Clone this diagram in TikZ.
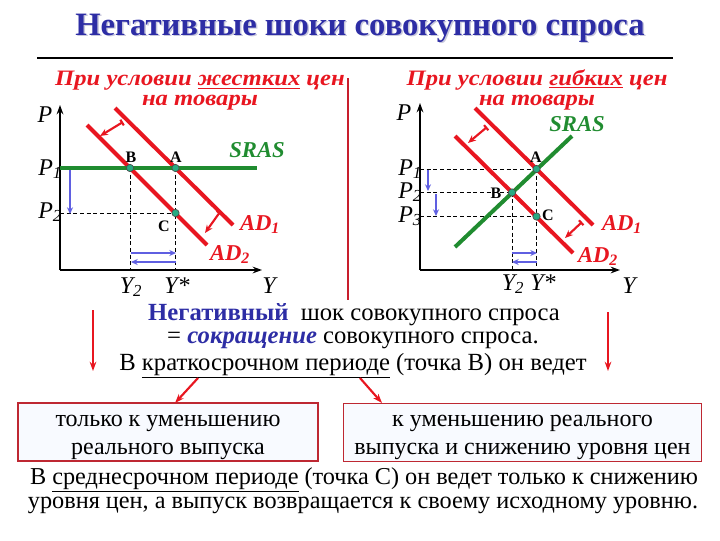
\documentclass[tikz,border=0pt]{standalone}
\usepackage{fontspec}
\setmainfont{Liberation Serif}
\newfontfamily\tmsfont{Liberation Serif}
\newfontfamily\headfont{Liberation Serif}[FakeStretch=1.12]
\usetikzlibrary{arrows.meta}
\definecolor{adred}{RGB}{232,22,32}
\definecolor{srasgreen}{RGB}{32,140,48}
\definecolor{shiftblue}{RGB}{95,95,225}
\definecolor{titleblue}{RGB}{45,45,165}
\definecolor{titleshadow}{RGB}{200,200,220}
\definecolor{ptfill}{RGB}{40,170,130}
\definecolor{boxred}{RGB}{190,40,50}
\definecolor{boxfill}{RGB}{248,250,255}
\definecolor{divred}{RGB}{200,30,45}
\begin{document}
\begin{tikzpicture}[x=0.75pt,y=-0.75pt,
  every node/.style={inner sep=0pt, outer sep=0pt},
  curve/.style={adred, line width=3pt},
  sras/.style={srasgreen, line width=3pt},
  axisline/.style={line width=1.3pt, -{Stealth[length=7pt,width=5pt]}},
  guide/.style={line width=0.7pt, dash pattern=on 3pt off 2pt},
  bluearrow/.style={shiftblue, line width=1.5pt, -{Stealth[length=5pt,width=4.5pt]}},
  shiftarrow/.style={adred, line width=1.6pt, {Bar[width=5pt]}-{Stealth[length=6pt,width=5pt]}},
  downarrow/.style={adred, line width=1.6pt, -{Stealth[length=7pt,width=5pt]}},
  eqpt/.style={circle, fill=ptfill, draw=black!70, line width=0.5pt, minimum size=5.5pt},
  axlabel/.style={font=\tmsfont\fontsize{18}{18}\selectfont\itshape},
  ptlabel/.style={font=\tmsfont\fontsize{12}{12}\selectfont\bfseries},
  curvelabel/.style={adred, font=\tmsfont\fontsize{17}{17}\selectfont\bfseries\itshape},
  sraslabel/.style={srasgreen, font=\tmsfont\fontsize{17}{17}\selectfont\bfseries\itshape},
  header/.style={adred, align=center, font=\headfont\fontsize{16.5}{15}\selectfont\bfseries\itshape},
  bodytext/.style={font=\tmsfont\fontsize{18.5}{19}\selectfont},
  bottomtext/.style={font=\tmsfont\fontsize{18.2}{19}\selectfont},
  boxtext/.style={align=center, font=\tmsfont\fontsize{18}{21}\selectfont},
  titletext/.style={font=\tmsfont\fontsize{24.5}{26}\selectfont\bfseries},
  outbox/.style={draw=boxred, line width=0.8pt, fill=boxfill, minimum height=43.5pt}
]
\useasboundingbox (0,0) rectangle (720,540);

% ---------- title ----------
\node[titletext, titleshadow] (titlesh) at (361.5,29.5) {Негативные шоки совокупного спроса};
\node[titletext, titleblue] (title) at (360,28) {Негативные шоки совокупного спроса};
\coordinate (rule-l) at (37,58);
\coordinate (rule-r) at (673,58);
\draw[line width=1.6pt] (rule-l) -- (rule-r);

% divider
\coordinate (div-t) at (348,78);
\coordinate (div-b) at (348,300);
\draw[divred, line width=1.1pt] (div-t) -- (div-b);

% ---------- headers ----------
\node[header] (hl) at (200,91) {При условии \underline{жестких} цен\\на товары};
\node[header] (hr) at (537,90) {При условии \underline{гибких} цен\\на товары};

% ================= LEFT PANEL =================
\coordinate (L-o) at (60,270);
\coordinate (L-ptop) at (60,105);
\coordinate (L-yend) at (262,270);
\coordinate (L-ad1a) at (115,108);
\coordinate (L-ad1b) at (233,225);
\coordinate (L-ad2a) at (87,125);
\coordinate (L-ad2b) at (207,245);
\coordinate (L-sa) at (60,168);
\coordinate (L-sb) at (257,168);
\coordinate (L-A) at (175.5,168);
\coordinate (L-B) at (130,168);
\coordinate (L-C) at (175.5,213);
\coordinate (L-P2) at (60,213);
\coordinate (L-Ax) at (175.5,270);
\coordinate (L-Bx) at (130,270);

\draw[guide] (L-B) -- (L-Bx);
\draw[guide] (L-A) -- (L-Ax);
\draw[guide] (L-P2) -- (L-C);
\draw[axisline] (L-o) -- (L-ptop);
\draw[axisline] (L-o) -- (L-yend);
\draw[curve] (L-ad1a) -- (L-ad1b);
\draw[curve] (L-ad2a) -- (L-ad2b);
\draw[sras] (L-sa) -- (L-sb);

% shift arrows
\coordinate (L-s1a) at (123,122);
\coordinate (L-s1b) at (100,136);
\coordinate (L-s2a) at (220,212);
\coordinate (L-s2b) at (205,233);
\draw[shiftarrow] (L-s1a) -- (L-s1b);
\draw[shiftarrow] (L-s2a) -- (L-s2b);

% blue arrows
\coordinate (L-bv1) at (70,170);
\coordinate (L-bv2) at (70,214);
\coordinate (L-bh1a) at (131,253);
\coordinate (L-bh1b) at (176,253);
\coordinate (L-bh2a) at (176,262);
\coordinate (L-bh2b) at (131,262);
\draw[bluearrow] (L-bv1) -- (L-bv2);
\draw[bluearrow] (L-bh1a) -- (L-bh1b);
\draw[bluearrow] (L-bh2a) -- (L-bh2b);

\node[eqpt] (L-ptA) at (L-A) {};
\node[eqpt] (L-ptB) at (L-B) {};
\node[eqpt] (L-ptC) at (L-C) {};

\node[ptlabel] (L-lA) at (176,157) {A};
\node[ptlabel] (L-lB) at (131,157) {B};
\node[ptlabel] (L-lC) at (164,226) {C};

\node[axlabel, anchor=base] (L-lP) at (45,122) {P};
\node[axlabel, anchor=base east] (L-lP1) at (62,175) {P\textsubscript{1}};
\node[axlabel, anchor=base east] (L-lP2) at (62,218) {P\textsubscript{2}};
\node[axlabel, anchor=base] (L-lY2) at (131,293) {Y\textsubscript{2}};
\node[axlabel, anchor=base] (L-lYs) at (177,293) {Y*};
\node[axlabel, anchor=base] (L-lY) at (269,293) {Y};
\node[sraslabel] (L-lS) at (257,150) {SRAS};
\node[curvelabel, anchor=base west] (L-lAD1) at (240,230) {AD\textsubscript{1}};
\node[curvelabel, anchor=base west] (L-lAD2) at (210,260) {AD\textsubscript{2}};

% ================= RIGHT PANEL =================
\coordinate (R-o) at (420,270);
\coordinate (R-ptop) at (420,103);
\coordinate (R-yend) at (620,270);
\coordinate (R-ad1a) at (475,108);
\coordinate (R-ad1b) at (593,225);
\coordinate (R-ad2a) at (455,136);
\coordinate (R-ad2b) at (573,253);
\coordinate (R-sa) at (455,247);
\coordinate (R-sb) at (572,136);
\coordinate (R-A) at (536.5,169);
\coordinate (R-B) at (512,192.5);
\coordinate (R-C) at (536.5,216.5);
\coordinate (R-P1) at (420,169);
\coordinate (R-P2) at (420,192.5);
\coordinate (R-P3) at (420,216.5);
\coordinate (R-Ax) at (536.5,270);
\coordinate (R-Bx) at (512,270);

\draw[guide] (R-P1) -- (R-A);
\draw[guide] (R-P2) -- (R-B);
\draw[guide] (R-P3) -- (R-C);
\draw[guide] (R-B) -- (R-Bx);
\draw[guide] (R-A) -- (R-Ax);
\draw[axisline] (R-o) -- (R-ptop);
\draw[axisline] (R-o) -- (R-yend);
\draw[curve] (R-ad1a) -- (R-ad1b);
\draw[curve] (R-ad2a) -- (R-ad2b);
\draw[sras] (R-sa) -- (R-sb);

\coordinate (R-s1a) at (487,127);
\coordinate (R-s1b) at (468,143);
\coordinate (R-s2a) at (582,222);
\coordinate (R-s2b) at (565,238);
\draw[shiftarrow] (R-s1a) -- (R-s1b);
\draw[shiftarrow] (R-s2a) -- (R-s2b);

\coordinate (R-bv1a) at (428,170);
\coordinate (R-bv1b) at (428,191);
\coordinate (R-bv2a) at (436,194);
\coordinate (R-bv2b) at (436,216);
\coordinate (R-bh1a) at (512,253);
\coordinate (R-bh1b) at (537,253);
\coordinate (R-bh2a) at (537,262);
\coordinate (R-bh2b) at (512,262);
\draw[bluearrow] (R-bv1a) -- (R-bv1b);
\draw[bluearrow] (R-bv2a) -- (R-bv2b);
\draw[bluearrow] (R-bh1a) -- (R-bh1b);
\draw[bluearrow] (R-bh2a) -- (R-bh2b);

\node[eqpt] (R-ptA) at (R-A) {};
\node[eqpt] (R-ptB) at (R-B) {};
\node[eqpt] (R-ptC) at (R-C) {};

\node[ptlabel] (R-lA) at (536,157) {A};
\node[ptlabel] (R-lB) at (496,193) {B};
\node[ptlabel] (R-lC) at (548,215) {C};

\node[axlabel, anchor=base] (R-lP) at (404,120) {P};
\node[axlabel, anchor=base east] (R-lP1) at (422,175) {P\textsubscript{1}};
\node[axlabel, anchor=base east] (R-lP2) at (422,198) {P\textsubscript{2}};
\node[axlabel, anchor=base east] (R-lP3) at (422,222) {P\textsubscript{3}};
\node[axlabel, anchor=base] (R-lY2) at (513,290) {Y\textsubscript{2}};
\node[axlabel, anchor=base] (R-lYs) at (543,290) {Y*};
\node[axlabel, anchor=base] (R-lY) at (629,293) {Y};
\node[sraslabel] (R-lS) at (577,124) {SRAS};
\node[curvelabel, anchor=base west] (R-lAD1) at (602,230) {AD\textsubscript{1}};
\node[curvelabel, anchor=base west] (R-lAD2) at (578,262) {AD\textsubscript{2}};

% ================= TEXT =================
\node[bodytext] (neg) at (354,315) {\textcolor{titleblue}{\bfseries Негативный}\ \ шок совокупного спроса};
\node[bodytext] (eq) at (353,340) {= \textcolor{titleblue}{\bfseries\itshape сокращение} совокупного спроса.};
\node[bodytext] (short) at (353,366) {В \underline{краткосрочном периоде} (точка В) он ведет};

\coordinate (dl-a) at (93,310);
\coordinate (dl-b) at (93,371);
\coordinate (dr-a) at (608,312);
\coordinate (dr-b) at (608,371);
\draw[downarrow] (dl-a) -- (dl-b);
\draw[downarrow] (dr-a) -- (dr-b);

\node[outbox, minimum width=225pt] (lbox) at (168,432) {};
\node[outbox, minimum width=269pt] (rbox) at (522.5,432.5) {};
\node[boxtext] (ltext) at (168,437) {только к уменьшению\\реального выпуска};
\node[boxtext] (rtext) at (522.5,437) {к уменьшению реального\\выпуска и снижению уровня цен};

\coordinate (ld-a) at (198,378);
\coordinate (ld-b) at (175,403);
\coordinate (rd-a) at (360,378);
\coordinate (rd-b) at (382,403);
\draw[downarrow] (ld-a) -- (ld-b);
\draw[downarrow] (rd-a) -- (rd-b);

\node[bottomtext] (mid1) at (364,480) {В \underline{среднесрочном периоде} (точка С) он ведет только к снижению};
\node[bottomtext] (mid2) at (363,505) {уровня цен, а выпуск возвращается к своему исходному уровню.};
\end{tikzpicture}
\end{document}
